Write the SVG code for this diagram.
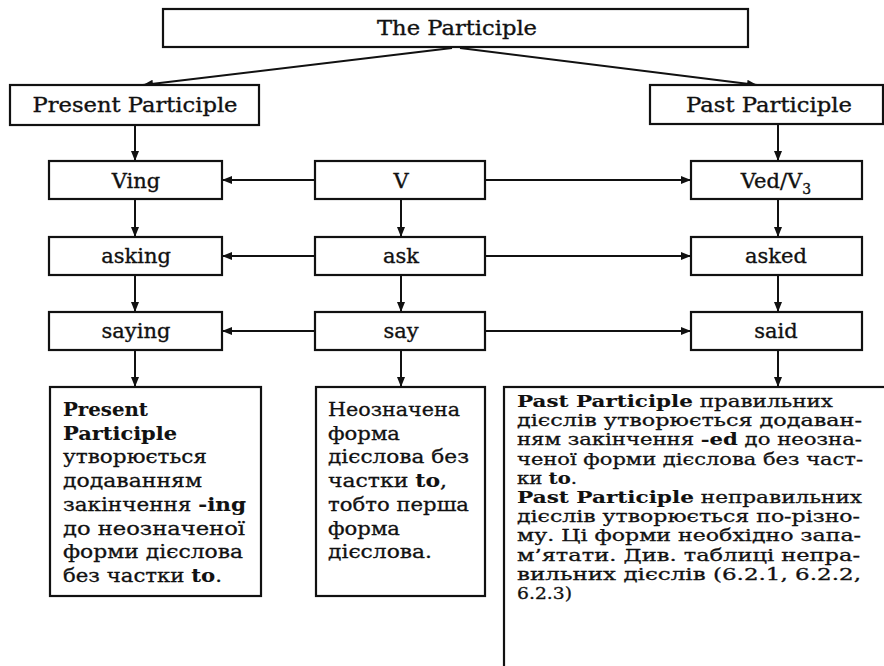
<svg xmlns="http://www.w3.org/2000/svg" width="884" height="666" viewBox="0 0 884 666">
<defs>
<marker id="ah" markerUnits="userSpaceOnUse" markerWidth="11" markerHeight="9" refX="10" refY="4" orient="auto">
<path d="M0,0 L10,4 L0,8 z" fill="#111"/>
</marker>
<style>
.box{fill:#fff;stroke:#111;stroke-width:2.2}
.c{fill:none;stroke:#111;stroke-width:2;marker-end:url(#ah)}
.h{font-family:"DejaVu Serif","Liberation Serif",serif;font-size:20px;fill:#111;stroke:#111;stroke-width:0.35;text-anchor:middle}
.r{font-family:"DejaVu Serif","Liberation Serif",serif;font-size:21px;fill:#111;stroke:#111;stroke-width:0.35;text-anchor:middle}
.b{font-family:"DejaVu Serif","Liberation Serif",serif;font-size:18px;fill:#111;stroke:#111;stroke-width:0.3}
.s{font-family:"DejaVu Serif","Liberation Serif",serif;font-size:16.5px;fill:#111;stroke:#111;stroke-width:0.3}
.bd{font-weight:bold;stroke-width:0.1}
</style>
</defs>
<rect width="884" height="666" fill="#fff"/>
<g id="connectors">
<line class="c" x1="452" y1="48" x2="143" y2="85"/>
<line class="c" x1="460" y1="48" x2="757" y2="85"/>
<line class="c" x1="135" y1="125" x2="135" y2="161"/>
<line class="c" x1="778" y1="124" x2="778" y2="161"/>
<line class="c" x1="315" y1="180" x2="222" y2="180"/>
<line class="c" x1="485" y1="180" x2="691" y2="180"/>
<line class="c" x1="315" y1="256" x2="222" y2="256"/>
<line class="c" x1="485" y1="256" x2="691" y2="256"/>
<line class="c" x1="315" y1="331" x2="222" y2="331"/>
<line class="c" x1="485" y1="331" x2="691" y2="331"/>
<line class="c" x1="135" y1="199" x2="135" y2="237"/>
<line class="c" x1="135" y1="275" x2="135" y2="312"/>
<line class="c" x1="135" y1="350" x2="135" y2="387"/>
<line class="c" x1="401" y1="199" x2="401" y2="237"/>
<line class="c" x1="401" y1="275" x2="401" y2="312"/>
<line class="c" x1="401" y1="350" x2="401" y2="387"/>
<line class="c" x1="778" y1="199" x2="778" y2="237"/>
<line class="c" x1="778" y1="275" x2="778" y2="312"/>
<line class="c" x1="778" y1="350" x2="778" y2="387"/>
</g>
<g id="the-participle">
<rect class="box" x="163" y="9" width="585" height="38"/>
<text class="h" x="457" y="35" textLength="160" lengthAdjust="spacingAndGlyphs">The Participle</text>
</g>
<g id="present-participle">
<rect class="box" x="10" y="85" width="249" height="40"/>
<text class="h" x="135" y="112" textLength="205" lengthAdjust="spacingAndGlyphs">Present Participle</text>
</g>
<g id="past-participle">
<rect class="box" x="650" y="85" width="233" height="39"/>
<text class="h" x="769" y="112" textLength="166" lengthAdjust="spacingAndGlyphs">Past Participle</text>
</g>
<g id="ving">
<rect class="box" x="49" y="161" width="173" height="38"/>
<text class="r" x="136" y="188">Ving</text>
</g>
<g id="v">
<rect class="box" x="315" y="161" width="170" height="38"/>
<text class="r" x="401" y="188">V</text>
</g>
<g id="ved">
<rect class="box" x="691" y="161" width="171" height="38"/>
<text class="r" x="776" y="188">Ved/V<tspan font-size="14" dy="6">3</tspan></text>
</g>
<g id="asking">
<rect class="box" x="49" y="237" width="173" height="38"/>
<text class="r" x="136" y="263">asking</text>
</g>
<g id="ask">
<rect class="box" x="315" y="237" width="170" height="38"/>
<text class="r" x="401" y="263">ask</text>
</g>
<g id="asked">
<rect class="box" x="691" y="237" width="171" height="38"/>
<text class="r" x="776" y="263">asked</text>
</g>
<g id="saying">
<rect class="box" x="49" y="312" width="173" height="38"/>
<text class="r" x="136" y="338">saying</text>
</g>
<g id="say">
<rect class="box" x="315" y="312" width="170" height="38"/>
<text class="r" x="401" y="338">say</text>
</g>
<g id="said">
<rect class="box" x="691" y="312" width="171" height="38"/>
<text class="r" x="776" y="338">said</text>
</g>
<g id="present-note">
<rect class="box" x="50" y="387" width="211" height="209"/>
<text class="b bd" x="63" y="416" textLength="85" lengthAdjust="spacingAndGlyphs">Present</text>
<text class="b bd" x="63" y="440" textLength="114" lengthAdjust="spacingAndGlyphs">Participle</text>
<text class="b" x="63" y="463" textLength="144" lengthAdjust="spacingAndGlyphs">утворюється</text>
<text class="b" x="63" y="487" textLength="139" lengthAdjust="spacingAndGlyphs">додаванням</text>
<text class="b" x="63" y="511" textLength="183" lengthAdjust="spacingAndGlyphs">закінчення <tspan class="bd">-ing</tspan></text>
<text class="b" x="63" y="535" textLength="182" lengthAdjust="spacingAndGlyphs">до неозначеної</text>
<text class="b" x="63" y="558" textLength="180" lengthAdjust="spacingAndGlyphs">форми дієслова</text>
<text class="b" x="63" y="582" textLength="159" lengthAdjust="spacingAndGlyphs">без частки <tspan class="bd">to</tspan>.</text>
</g>
<g id="infinitive-note">
<rect class="box" x="316" y="387" width="169" height="209"/>
<text class="b" x="328" y="416" textLength="132" lengthAdjust="spacingAndGlyphs">Неозначена</text>
<text class="b" x="328" y="440" textLength="72" lengthAdjust="spacingAndGlyphs">форма</text>
<text class="b" x="328" y="463" textLength="141" lengthAdjust="spacingAndGlyphs">дієслова без</text>
<text class="b" x="328" y="487" textLength="119" lengthAdjust="spacingAndGlyphs">частки <tspan class="bd">to</tspan>,</text>
<text class="b" x="328" y="511" textLength="141" lengthAdjust="spacingAndGlyphs">тобто перша</text>
<text class="b" x="328" y="535" textLength="72" lengthAdjust="spacingAndGlyphs">форма</text>
<text class="b" x="328" y="558" textLength="104" lengthAdjust="spacingAndGlyphs">дієслова.</text>
</g>
<g id="past-note">
<rect class="box" x="504" y="387" width="420" height="320"/>
<text class="s" x="517" y="407" textLength="316" lengthAdjust="spacingAndGlyphs"><tspan class="bd">Past Participle</tspan> правильних</text>
<text class="s" x="517" y="426" textLength="345" lengthAdjust="spacingAndGlyphs">дієслів утворюється додаван-</text>
<text class="s" x="517" y="445" textLength="345" lengthAdjust="spacingAndGlyphs">ням закінчення <tspan class="bd">-ed</tspan> до неозна-</text>
<text class="s" x="517" y="465" textLength="346" lengthAdjust="spacingAndGlyphs">ченої форми дієслова без част-</text>
<text class="s" x="517" y="484" textLength="60" lengthAdjust="spacingAndGlyphs">ки <tspan class="bd">to</tspan>.</text>
<text class="s" x="517" y="503" textLength="345" lengthAdjust="spacingAndGlyphs"><tspan class="bd">Past Participle</tspan> неправильних</text>
<text class="s" x="517" y="522" textLength="343" lengthAdjust="spacingAndGlyphs">дієслів утворюється по-різно-</text>
<text class="s" x="517" y="541" textLength="344" lengthAdjust="spacingAndGlyphs">му. Ці форми необхідно запа-</text>
<text class="s" x="517" y="561" textLength="343" lengthAdjust="spacingAndGlyphs">м’ятати. Див. таблиці непра-</text>
<text class="s" x="517" y="580" textLength="344" lengthAdjust="spacingAndGlyphs">вильних дієслів (6.2.1, 6.2.2,</text>
<text class="s" x="517" y="599" textLength="55" lengthAdjust="spacingAndGlyphs">6.2.3)</text>
</g>
</svg>
